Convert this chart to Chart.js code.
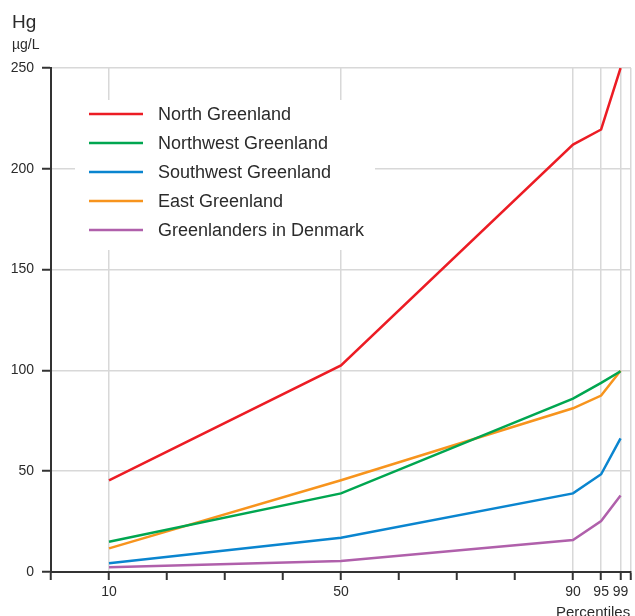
<!DOCTYPE html>
<html>
<head>
<meta charset="utf-8">
<script src="https://cdn.jsdelivr.net/npm/chart.js@4/dist/chart.umd.min.js"></script>
<style>
  html, body { margin: 0; padding: 0; background: #fff; }
  #wrap { width: 635px; height: 616px; position: relative; }
</style>
</head>
<body>
<div id="wrap"><canvas id="c" width="635" height="616"></canvas></div>
<script>
// Blood mercury percentiles by region
const percentiles = [10, 50, 90, 95, 99];
const northGreenland = [45.5, 102.5, 212, 219.5, 250];
const northwestGreenland = [15, 39, 86, 93.8, 99.6];
const southwestGreenland = [4.3, 17, 39, 48.5, 66.3];
const eastGreenland = [11.7, 45.5, 81.2, 87.5, 99.8];
const greenlandersInDenmark = [2.3, 5.5, 15.9, 25.3, 37.9];

const seriesNames = ['North Greenland', 'Northwest Greenland', 'Southwest Greenland', 'East Greenland', 'Greenlanders in Denmark'];
const seriesColors = ['#ec1c24', '#00a650', '#0a85cf', '#f7941d', '#b060ab'];
const seriesValues = [northGreenland, northwestGreenland, southwestGreenland, eastGreenland, greenlandersInDenmark];

const xTickValues = [0, 10, 20, 30, 40, 50, 60, 70, 80, 90, 95, 99, 100];
const xLabelled = [10, 50, 90, 95, 99];
const xGridded = [10, 50, 90, 95, 99, 100];
const yTicks = [0, 50, 100, 150, 200, 250];

const FONT = '"Liberation Sans", Arial, sans-serif';
const TEXT = '#2b2b2b';
const GRID = '#d8d8d8';
const AXIS = '#333333';

// The upper percentiles sit slightly compressed toward the end of the axis
const axisBreaks = [[0, 0], [90, 90], [95, 94.85], [99, 98.2], [100, 100]];
function warp(v, from, to) {
  for (let i = 1; i < axisBreaks.length; i++) {
    const a = axisBreaks[i - 1], b = axisBreaks[i];
    if (v <= b[from] || i === axisBreaks.length - 1) {
      const t = (v - a[from]) / (b[from] - a[from]);
      return a[to] + t * (b[to] - a[to]);
    }
  }
  return v;
}

class PercentileScale extends Chart.LinearScale {
  getPixelForValue(value) {
    return super.getPixelForValue(warp(value, 0, 1));
  }
  getValueForPixel(pixel) {
    return warp(super.getValueForPixel(pixel), 1, 0);
  }
}
PercentileScale.id = 'percentile';
PercentileScale.defaults = Chart.LinearScale.defaults;
Chart.register(PercentileScale);

const datasets = seriesNames.map((name, i) => ({
  label: name,
  data: percentiles.map((p, j) => ({ x: p, y: seriesValues[i][j] })),
  borderColor: seriesColors[i],
  backgroundColor: seriesColors[i],
  borderWidth: 2.5,
  pointRadius: 0,
  tension: 0,
  fill: false
}));

// White legend panel drawn over the grid, under the lines
const legendPanel = {
  id: 'legendPanel',
  beforeDatasetsDraw(chart) {
    const ctx = chart.ctx;
    ctx.save();
    ctx.fillStyle = '#ffffff';
    ctx.fillRect(75, 100, 300, 150);
    const rowY = [114, 143, 172, 201, 230];
    ctx.font = '18px ' + FONT;
    ctx.textBaseline = 'middle';
    chart.data.datasets.forEach((ds, i) => {
      ctx.strokeStyle = ds.borderColor;
      ctx.lineWidth = 2.5;
      ctx.beginPath();
      ctx.moveTo(89, rowY[i]);
      ctx.lineTo(143, rowY[i]);
      ctx.stroke();
      ctx.fillStyle = TEXT;
      ctx.fillText(ds.label, 158, rowY[i] + 1);
    });
    ctx.restore();
  }
};

// Axis titles
const axisTitles = {
  id: 'axisTitles',
  afterDraw(chart) {
    const ctx = chart.ctx;
    ctx.save();
    ctx.fillStyle = TEXT;
    ctx.textBaseline = 'alphabetic';
    ctx.font = '19px ' + FONT;
    ctx.fillText('Hg', 12, 28);
    ctx.font = '14px ' + FONT;
    ctx.fillText('\u00b5g/L', 12, 49);
    ctx.font = '15px ' + FONT;
    ctx.fillText('Percentiles', 556, 617);
    ctx.restore();
  }
};

new Chart(document.getElementById('c'), {
  type: 'line',
  data: { datasets },
  plugins: [legendPanel, axisTitles],
  options: {
    responsive: false,
    animation: false,
    events: [],
    layout: { padding: { top: 68, right: 4, left: 0, bottom: 0 } },
    plugins: { legend: { display: false }, tooltip: { enabled: false } },
    scales: {
      x: {
        type: 'percentile',
        min: 0,
        max: 100,
        afterBuildTicks(scale) {
          scale.ticks = xTickValues.map(v => ({ value: v }));
        },
        afterFit(scale) { scale.height = 44; },
        ticks: {
          autoSkip: false,
          maxRotation: 0,
          padding: 4,
          color: TEXT,
          font: { family: FONT, size: 14 },
          callback: v => (xLabelled.includes(v) ? String(v) : '')
        },
        grid: {
          drawOnChartArea: true,
          lineWidth: 1.5,
          color: c => (c.tick && xGridded.includes(c.tick.value) ? GRID : 'rgba(0,0,0,0)'),
          tickColor: AXIS,
          tickLength: 8,
          tickWidth: 2
        },
        border: { display: true, color: AXIS, width: 2 }
      },
      y: {
        type: 'linear',
        min: 0,
        max: 250,
        afterBuildTicks(scale) {
          scale.ticks = yTicks.map(v => ({ value: v }));
        },
        afterFit(scale) { scale.width = 51; },
        ticks: {
          padding: 8,
          color: TEXT,
          font: { family: FONT, size: 14 }
        },
        grid: {
          lineWidth: 1.5,
          color: c => (c.tick && c.tick.value > 0 ? GRID : 'rgba(0,0,0,0)'),
          tickColor: AXIS,
          tickLength: 9,
          tickWidth: 2
        },
        border: { display: true, color: AXIS, width: 2 }
      }
    }
  }
});
</script>
</body>
</html>
